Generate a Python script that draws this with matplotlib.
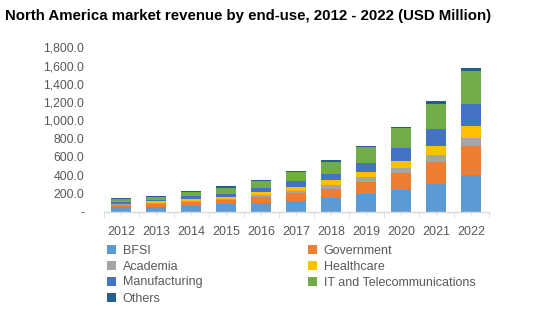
import matplotlib
matplotlib.use("Agg")
import matplotlib.pyplot as plt
import numpy as np
from matplotlib.patches import Patch
from matplotlib.ticker import FuncFormatter, FixedLocator

plt.rcParams['font.family'] = ['Liberation Sans', 'DejaVu Sans']

years = ["2012", "2013", "2014", "2015", "2016", "2017",
         "2018", "2019", "2020", "2021", "2022"]

bfsi = [44, 44, 55, 77, 88, 110, 150, 190, 240, 305, 395]
government = [25, 40, 44, 44, 66, 88, 102, 138, 185, 240, 318]
academia = [11, 7, 11, 18, 22, 26, 36, 47, 55, 76, 98]
healthcare = [7, 22, 22, 22, 36, 44, 55, 55, 76, 98, 131]
manufacturing = [22, 15, 33, 33, 44, 66, 73, 105, 142, 185, 240]
it_telecom = [33, 36, 44, 66, 77, 99, 131, 174, 218, 273, 362]
others = [11, 11, 11, 15, 11, 11, 15, 11, 11, 33, 33]

series = [
    ("BFSI", bfsi, "#5B9BD5"),
    ("Government", government, "#ED7D31"),
    ("Academia", academia, "#A5A5A5"),
    ("Healthcare", healthcare, "#FFC000"),
    ("Manufacturing", manufacturing, "#4472C4"),
    ("IT and Telecommunications", it_telecom, "#70AD47"),
    ("Others", others, "#255E91"),
]

text_color = "#595959"
axis_color = "#D9D9D9"

fig = plt.figure(figsize=(5.44, 3.22), dpi=100)
ax = fig.add_axes([103.5 / 544, 1 - 211.5 / 322, 385 / 544, (211.5 - 47.3) / 322])

x = np.arange(len(years))
bottom = np.zeros(len(years))
handles = {}
for name, vals, color in series:
    vals = np.array(vals, dtype=float)
    ax.bar(x, vals, width=0.55, bottom=bottom, color=color, linewidth=0)
    handles[name] = Patch(facecolor=color, edgecolor="none")
    bottom += vals

ax.set_xlim(-0.5, len(years) - 0.5)
ax.set_ylim(0, 1800)
ax.set_yticks(np.arange(0, 1801, 200))
ax.yaxis.set_major_formatter(FuncFormatter(lambda v, p: "-" if v == 0 else f"{v:,.1f}"))

ax.set_xticks(x)
ax.set_xticklabels(years)
ax.xaxis.set_minor_locator(FixedLocator(np.arange(-0.5, len(years), 1.0)))

for side in ("top", "right", "left"):
    ax.spines[side].set_visible(False)
ax.spines["bottom"].set_color(axis_color)
ax.spines["bottom"].set_linewidth(1.0)

ax.tick_params(axis="y", length=0, pad=14, labelsize=8.8, labelcolor=text_color)
ax.tick_params(axis="x", which="major", length=2.5, color=axis_color,
               pad=8, labelsize=9, labelcolor=text_color)
ax.tick_params(axis="x", which="minor", length=4, color=axis_color)

fig.text(5 / 544, 1 - 16 / 322,
         "North America market revenue by end-use, 2012 - 2022 (USD Million)",
         fontsize=10.8, fontweight="bold", color="black", va="center", ha="left")

col1 = ["BFSI", "Academia", "Manufacturing", "Others"]
col2 = ["Government", "Healthcare", "IT and Telecommunications"]
legend_kw = dict(frameon=False, fontsize=9, labelcolor=text_color,
                 handlelength=0.7, handleheight=0.7, handletextpad=0.55,
                 labelspacing=0.32, borderaxespad=0, borderpad=0)
leg1 = fig.legend([handles[n] for n in col1], col1, loc="upper left",
                  bbox_to_anchor=(107 / 544, 1 - 244.5 / 322), **legend_kw)
leg2 = fig.legend([handles[n] for n in col2], col2, loc="upper left",
                  bbox_to_anchor=(308 / 544, 1 - 244.5 / 322), **legend_kw)

fig.savefig("out.png", dpi=100)
